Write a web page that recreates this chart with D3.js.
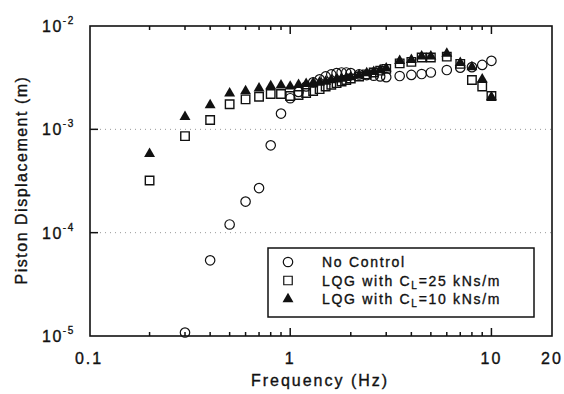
<!DOCTYPE html>
<html>
<head>
<meta charset="utf-8">
<script src="https://cdn.jsdelivr.net/npm/d3@7"></script>
<style>
  body { margin: 0; background: #fff; }
  text { font-family: "Liberation Sans", Arial, sans-serif; fill: #111; stroke: #111; stroke-width: 0.35px; }
</style>
</head>
<body>
<div id="chart"></div>
<script>
var width = 564, height = 394;

// frequencies (Hz)
var freq = [0.2, 0.3, 0.4, 0.5, 0.6, 0.7, 0.8, 0.9, 1.0, 1.1, 1.2, 1.3, 1.4, 1.5, 1.6, 1.7, 1.8, 1.9,
            2.0, 2.2, 2.4, 2.6, 2.8, 3.0, 3.5, 4, 4.5, 5, 6, 7, 8, 9, 10];

// piston displacement (m)
var noControl = [null, 1.08e-5, 5.4e-5, 1.2e-4, 2.0e-4, 2.7e-4, 7.0e-4, 1.42e-3, 2.0e-3, 2.3e-3, 2.6e-3, 2.85e-3,
                 3.05e-3, 3.25e-3, 3.4e-3, 3.5e-3, 3.55e-3, 3.55e-3, 3.5e-3, 3.4e-3, 3.35e-3, 3.3e-3, 3.25e-3, 3.2e-3,
                 3.28e-3, 3.36e-3, 3.43e-3, 3.55e-3, 3.75e-3, 3.95e-3, 4.0e-3, 4.2e-3, 4.6e-3];
var lqg25 = [3.2e-4, 8.6e-4, 1.23e-3, 1.75e-3, 1.95e-3, 2.07e-3, 2.2e-3, 2.2e-3, 2.1e-3, 2.15e-3, 2.25e-3, 2.35e-3,
             2.45e-3, 2.6e-3, 2.7e-3, 2.8e-3, 2.9e-3, 3.0e-3, 3.1e-3, 3.25e-3, 3.4e-3, 3.55e-3, 3.7e-3, 3.85e-3,
             4.35e-3, 4.5e-3, 4.95e-3, 4.95e-3, 5.05e-3, 4.3e-3, 3.0e-3, 2.6e-3, 2.1e-3];
var lqg10 = [5.8e-4, 1.32e-3, 1.72e-3, 2.23e-3, 2.35e-3, 2.5e-3, 2.62e-3, 2.67e-3, 2.6e-3, 2.7e-3, 2.75e-3, 2.8e-3,
             2.85e-3, 2.9e-3, 3.0e-3, 3.05e-3, 3.1e-3, 3.15e-3, 3.2e-3, 3.35e-3, 3.5e-3, 3.6e-3, 3.75e-3, 3.9e-3,
             4.6e-3, 4.7e-3, 5.1e-3, 5.1e-3, 5.4e-3, 4.4e-3, 4.0e-3, 3.05e-3, 2.05e-3];

var xLabels = [0.1, 1, 10, 20];
var yLabels = [-5, -4, -3, -2];
var gridLevels = [1e-4, 1e-3];
var minorTicks = [0.2, 0.3, 0.4, 0.5, 0.6, 0.7, 0.8, 0.9, 2, 3, 4, 5, 6, 7, 8, 9];

var m = {left: 90, right: 552, top: 26, bottom: 336};

var x = d3.scaleLog().domain([0.1, 20]).range([89, m.right]);
var y = d3.scaleLog().domain([1e-5, 1e-2]).range([m.bottom, m.top]);

var svg = d3.select("#chart").append("svg")
    .attr("width", width)
    .attr("height", height);

// dotted grid lines
svg.append("g")
  .selectAll("line")
  .data(gridLevels)
  .join("line")
  .attr("x1", m.left).attr("x2", m.right)
  .attr("y1", d => y(d)).attr("y2", d => y(d))
  .attr("stroke", "#999")
  .attr("stroke-width", 1)
  .attr("stroke-dasharray", "1,4");

// frame
svg.append("rect")
  .attr("x", m.left).attr("y", m.top)
  .attr("width", m.right - m.left).attr("height", m.bottom - m.top)
  .attr("fill", "none")
  .attr("stroke", "#111")
  .attr("stroke-width", 1.6);

// ticks, bottom and top, pointing inward
function xTicks(vals, len) {
  var g = svg.append("g").attr("stroke", "#111").attr("stroke-width", 1.5);
  g.selectAll("line.b").data(vals).join("line").attr("class", "b")
    .attr("x1", d => x(d)).attr("x2", d => x(d))
    .attr("y1", m.bottom).attr("y2", m.bottom - len);
  g.selectAll("line.t").data(vals).join("line").attr("class", "t")
    .attr("x1", d => x(d)).attr("x2", d => x(d))
    .attr("y1", m.top).attr("y2", m.top + len);
}
xTicks(minorTicks, 4);
xTicks([1, 10], 8);

svg.append("g").attr("stroke", "#111").attr("stroke-width", 1.5)
  .selectAll("line").data([1e-4, 1e-3]).join("line")
  .attr("x1", m.left).attr("x2", m.left + 8)
  .attr("y1", d => y(d)).attr("y2", d => y(d));

// x tick labels
svg.append("g").selectAll("text").data(xLabels).join("text")
  .attr("x", d => x(d))
  .attr("y", 364)
  .attr("text-anchor", "middle")
  .style("font-size", "16px")
  .style("letter-spacing", "2px")
  .text(d => d);

// y tick labels 10^n
var yl = svg.append("g").selectAll("text").data(yLabels).join("text")
  .attr("x", 42)
  .attr("y", d => y(Math.pow(10, d)) + 6)
  .style("font-size", "16px")
  .style("letter-spacing", "1.5px");
yl.append("tspan").text("10");
yl.append("tspan").attr("dy", -8).style("font-size", "10px").text(d => "-" + (-d));

// axis titles
svg.append("text")
  .attr("x", 320).attr("y", 386)
  .attr("text-anchor", "middle")
  .style("font-size", "16px")
  .style("letter-spacing", "2px")
  .text("Frequency (Hz)");

svg.append("text")
  .attr("transform", "translate(27,180) rotate(-90)")
  .attr("text-anchor", "middle")
  .style("font-size", "16px")
  .style("letter-spacing", "1.5px")
  .text("Piston Displacement  (m)");

// symbols
var circleSym = d3.symbol().type(d3.symbolCircle).size(70);
var squareSym = d3.symbol().type(d3.symbolSquare).size(72);
var triSym = d3.symbol().type(d3.symbolTriangle).size(52);

function pts(vals) {
  return freq.map((f, i) => ({f: f, v: vals[i]})).filter(d => d.v != null);
}

var plot = svg.append("g");
plot.selectAll("path.nc").data(pts(noControl)).join("path").attr("class", "nc")
  .attr("d", circleSym)
  .attr("transform", d => `translate(${x(d.f)},${y(d.v)})`)
  .attr("fill", "none").attr("stroke", "#111").attr("stroke-width", 1.2);
plot.selectAll("path.q25").data(pts(lqg25)).join("path").attr("class", "q25")
  .attr("d", squareSym)
  .attr("transform", d => `translate(${x(d.f)},${y(d.v)})`)
  .attr("fill", "none").attr("stroke", "#111").attr("stroke-width", 1.4);
plot.selectAll("path.q10").data(pts(lqg10)).join("path").attr("class", "q10")
  .attr("d", triSym)
  .attr("transform", d => `translate(${x(d.f)},${y(d.v)})`)
  .attr("fill", "#111");

// legend
var lg = svg.append("g");
lg.append("rect")
  .attr("x", 268).attr("y", 248)
  .attr("width", 266).attr("height", 69)
  .attr("fill", "#fff").attr("stroke", "#111").attr("stroke-width", 1.5);

var legendRows = [
  {sym: circleSym, fill: "none", pre: "No Control", sub: "", post: ""},
  {sym: squareSym, fill: "none", pre: "LQG with C", sub: "L", post: "=25 kNs/m"},
  {sym: triSym, fill: "#111", pre: "LQG with C", sub: "L", post: "=10 kNs/m"}
];
var row = lg.selectAll("g.row").data(legendRows).join("g").attr("class", "row")
  .attr("transform", (d, i) => `translate(0,${262 + i * 18.5})`);
row.append("path")
  .attr("d", d => d.sym())
  .attr("transform", "translate(288,0)")
  .attr("fill", d => d.fill)
  .attr("stroke", d => d.fill === "none" ? "#111" : "none")
  .attr("stroke-width", 1.2);
var lt = row.append("text")
  .attr("x", 322).attr("y", 5)
  .style("font-size", "14px")
  .style("letter-spacing", "1.7px");
lt.append("tspan").text(d => d.pre);
lt.append("tspan").attr("dy", 3).style("font-size", "10px").text(d => d.sub);
lt.append("tspan").attr("dy", -3).text(d => d.post);
</script>
</body>
</html>
